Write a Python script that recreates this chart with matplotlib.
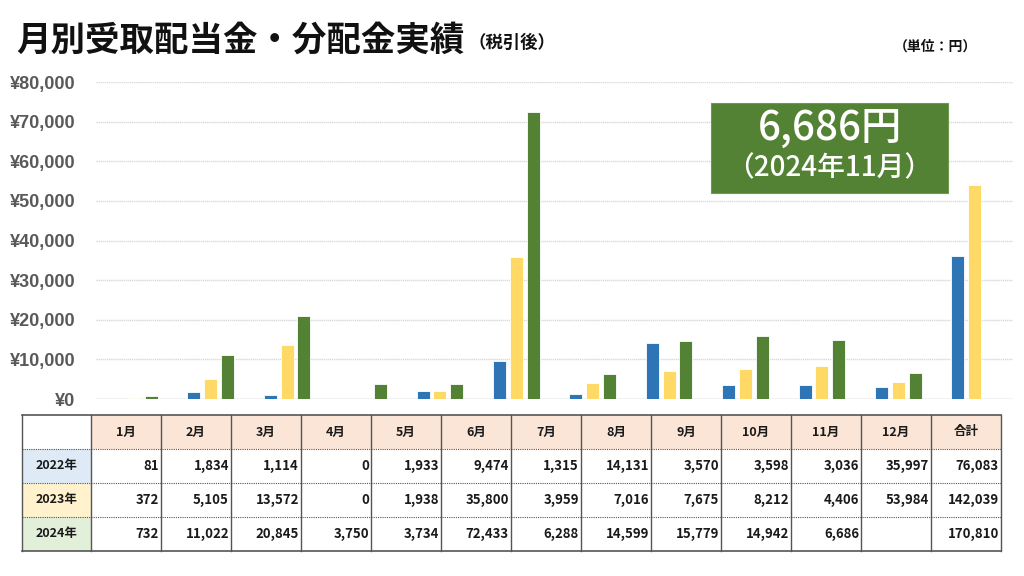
import matplotlib
matplotlib.use("Agg")
import matplotlib.pyplot as plt
from matplotlib.patches import Rectangle
import numpy as np

plt.rcParams['font.family'] = ['Noto Sans CJK JP', 'DejaVu Sans']

months = ["1月", "2月", "3月", "4月", "5月", "6月", "7月", "8月", "9月", "10月", "11月", "12月"]
table_cols = months + ["合計"]
years = ["2022年", "2023年", "2024年"]
v2022 = [81, 1834, 1114, 0, 1933, 9474, 1315, 14131, 3570, 3598, 3036, 35997]
v2023 = [372, 5105, 13572, 0, 1938, 35800, 3959, 7016, 7675, 8212, 4406, 53984]
v2024 = [732, 11022, 20845, 3750, 3734, 72433, 6288, 14599, 15779, 14942, 6686, None]
totals = [76083, 142039, 170810]
yticks = [0, 10000, 20000, 30000, 40000, 50000, 60000, 70000, 80000]

colors = ["#2E75B6", "#FFD966", "#548235"]
row_fills = ["#DEEBF7", "#FFF2CC", "#E2F0D9"]
header_fill = "#FBE5D6"

W, H = 1024, 576
fig = plt.figure(figsize=(W / 100, H / 100), dpi=100)

# chart axes
ax = fig.add_axes([96 / W, 1 - 399 / H, (1013 - 96) / W, (399 - 82) / H])
x = np.arange(len(months))
bw = 0.17
off = 0.22
series = [v2022, v2023, v2024]
for i, s in enumerate(series):
    vals = np.array([np.nan if v is None else v for v in s], dtype=float)
    ax.bar(x + (i - 1) * off, vals, width=bw, color=colors[i],
           edgecolor="white", linewidth=0.6, zorder=3)
ax.set_xlim(-0.5, len(months) - 0.5)
ax.set_ylim(0, 80000)
ax.set_yticks(yticks)
ax.set_yticklabels([f"¥{v:,}" for v in yticks], color="#595959",
                   fontsize=13, fontweight="bold", family=['Liberation Sans', 'DejaVu Sans'])
ax.tick_params(axis="y", length=0, pad=15)
ax.set_xticks([])
ax.grid(axis="y", color="#D9D9D9", linestyle=(0, (1, 0.5)), linewidth=1, zorder=0)
for sp in ax.spines.values():
    sp.set_visible(False)
ax.axhline(0, color="#D9D9D9", linewidth=1, zorder=2)

# overlay in pixel coords
ov = fig.add_axes([0, 0, 1, 1])
ov.set_xlim(0, W)
ov.set_ylim(H, 0)
ov.axis("off")
ov.set_zorder(5)

# title
ov.text(16, 40, "月別受取配当金・分配金実績", fontsize=24.8, fontweight="bold",
        ha="left", va="center", color="#111111")
ov.text(468, 43, "（税引後）", fontsize=12.5, fontweight="bold",
        ha="left", va="center", color="#111111")
ov.text(977, 47, "（単位：円）", fontsize=10, fontweight="bold",
        ha="right", va="center", color="#111111")

# highlight box
ov.add_patch(Rectangle((711, 103), 237, 90, facecolor="#548235",
                       edgecolor="#6E9A50", linewidth=0.8))
ov.text(829.5, 128, "6,686円", fontsize=29, fontweight="medium", color="white",
        ha="center", va="center")
ov.text(829.5, 168, "（2024年11月）", fontsize=20, fontweight="medium", color="white",
        ha="center", va="center")

# table
tl, tr = 22, 1001
tt = 415
rh = 34
c0w = 69
cw = (tr - tl - c0w) / len(table_cols)
nrows = 4
# fills
ov.add_patch(Rectangle((tl + c0w, tt), cw * len(table_cols), rh, facecolor=header_fill,
                       edgecolor="none"))
for r in range(3):
    ov.add_patch(Rectangle((tl, tt + rh * (r + 1)), c0w, rh, facecolor=row_fills[r],
                           edgecolor="none"))
# text
for j, c in enumerate(table_cols):
    cx = tl + c0w + cw * (j + 0.5)
    ov.text(cx, tt + rh / 2, c, fontsize=9, fontweight="bold", ha="center",
            va="center", color="#1a1a1a")
rows = [v2022 + [totals[0]], v2023 + [totals[1]], v2024 + [totals[2]]]
for r in range(3):
    cy = tt + rh * (r + 1.5)
    ov.text(tl + c0w / 2, cy, years[r], fontsize=9, fontweight="bold",
            ha="center", va="center", color="#1a1a1a")
    for j, v in enumerate(rows[r]):
        if v is None:
            continue
        rx = tl + c0w + cw * (j + 1) - 2
        ov.text(rx, cy, f"{v:,}", fontsize=9.5, fontweight="bold", ha="right",
                va="center", color="#1a1a1a")
# lines
tb = tt + rh * nrows
for k in range(1, nrows):
    ov.plot([tl, tr], [tt + rh * k] * 2, color="#555555", linewidth=0.8,
            linestyle=(0, (1, 1)))
xs = [tl, tl + c0w] + [tl + c0w + cw * (j + 1) for j in range(len(table_cols))]
for xv in xs:
    ov.plot([xv, xv], [tt, tb], color="#555555", linewidth=1.0)
ov.plot([tl, tr], [tt, tt], color="#555555", linewidth=1.2)
ov.plot([tl, tr], [tb, tb], color="#555555", linewidth=1.2)

fig.savefig("out.png", dpi=100, facecolor="white")
